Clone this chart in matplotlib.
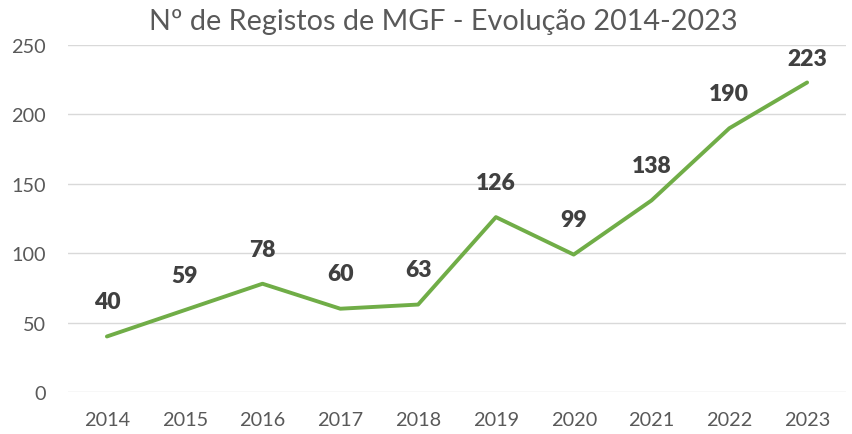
import matplotlib
matplotlib.use('Agg')
import matplotlib.pyplot as plt

anos = ['2014', '2015', '2016', '2017', '2018', '2019', '2020', '2021', '2022', '2023']
registos = [40, 59, 78, 60, 63, 126, 99, 138, 190, 223]

plt.rcParams['font.family'] = ['Lato', 'DejaVu Sans']

fig = plt.figure(figsize=(8.52, 4.35), dpi=100)
ax = fig.add_axes([68/852, 42/435, 778/852, 347/435])

x = list(range(len(anos)))
ax.plot(x, registos, color='#70AD47', linewidth=2.8, solid_capstyle='round', zorder=3)

for xi, v in zip(x, registos):
    off = 25 if v < 220 else 17
    ax.annotate(str(v), (xi, v), xytext=(0, off), textcoords='offset points',
                ha='center', va='center', fontsize=16.5, fontweight='heavy', color='#404040')

ax.set_xlim(-0.5, len(anos) - 0.5)
ax.set_ylim(0, 250)
ax.set_yticks(range(0, 251, 50))
ax.set_xticks(x)
ax.set_xticklabels(anos)
ax.grid(axis='y', color='#d9d9d9', linewidth=1)
ax.set_axisbelow(True)
for s in ax.spines.values():
    s.set_visible(False)
ax.tick_params(length=0, labelsize=14.3, labelcolor='#595959')
ax.tick_params(axis='x', pad=14)
ax.tick_params(axis='y', pad=16)

fig.suptitle('Nº de Registos de MGF - Evolução 2014-2023', x=443/852, y=1 - 22/435,
             va='center', fontsize=20.7, color='#595959')

fig.savefig('out.png', dpi=100)
